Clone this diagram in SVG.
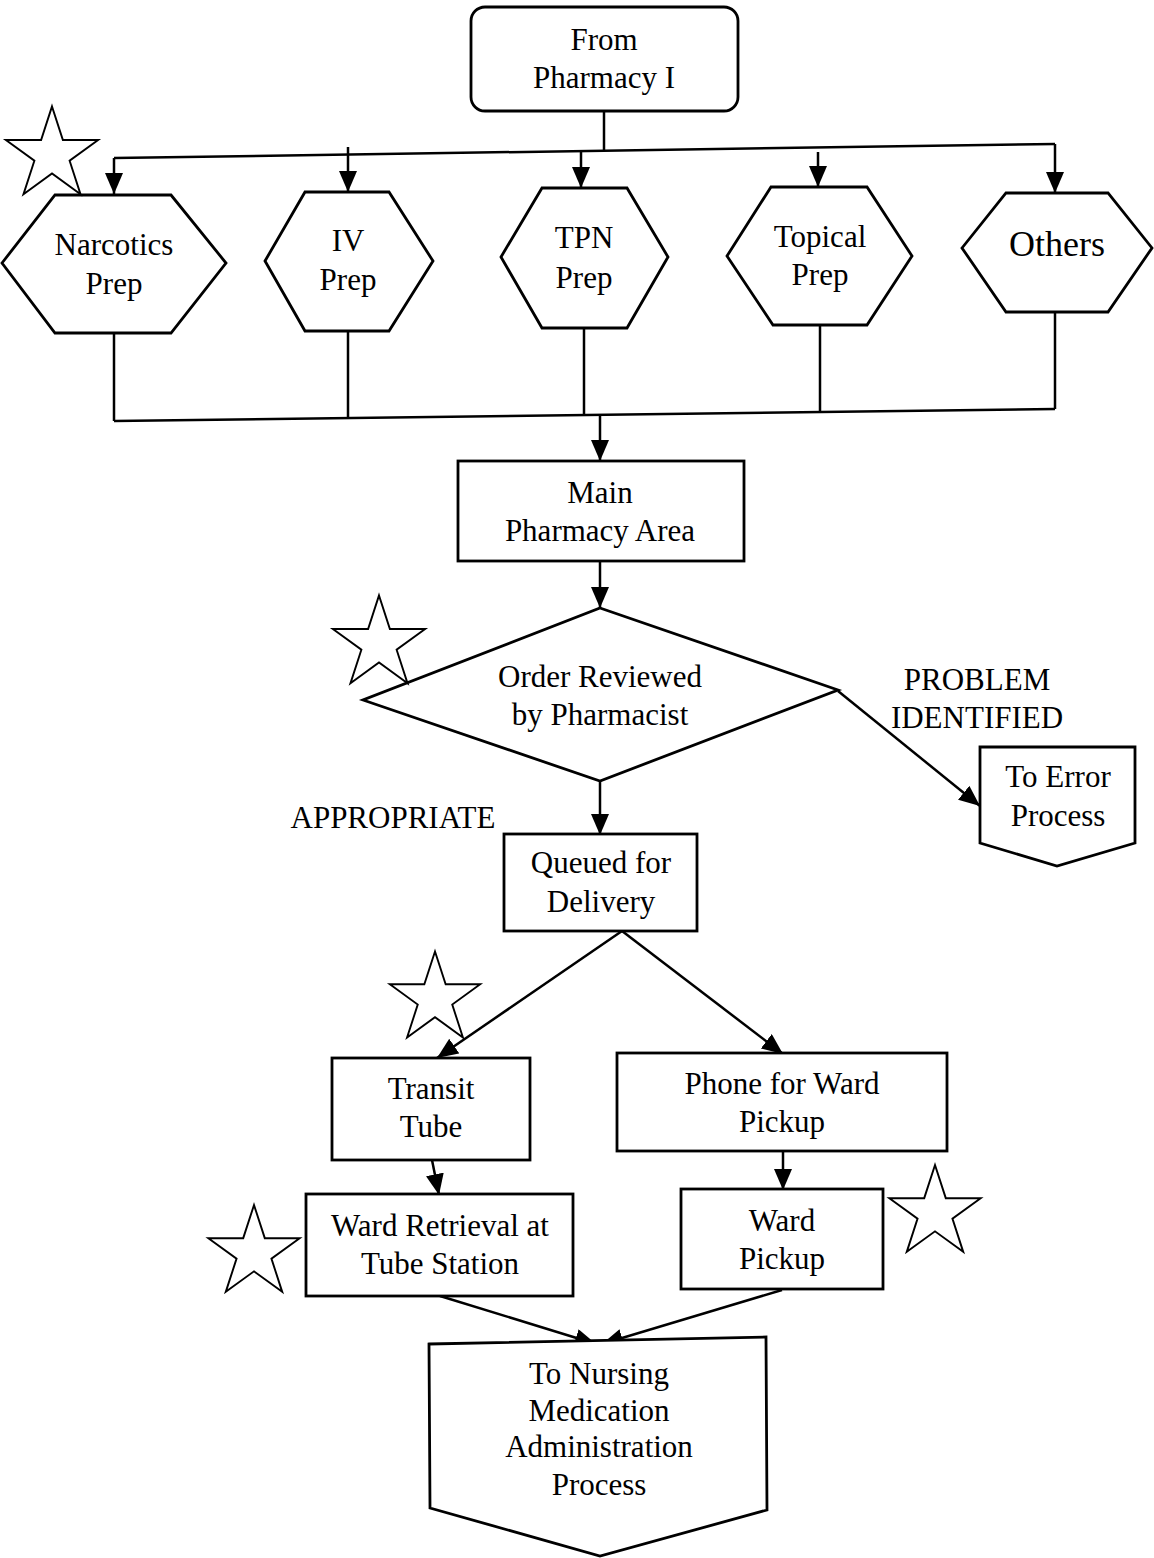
<svg xmlns="http://www.w3.org/2000/svg" xmlns:xlink="http://www.w3.org/1999/xlink" width="1154" height="1558" viewBox="0 0 1154 1558">
<style>
.shape{fill:#fff;stroke:#000;stroke-width:2.8;stroke-linejoin:miter}
.line{fill:none;stroke:#000;stroke-width:2.5}
.star{fill:#fff;stroke:#000;stroke-width:2}
text{font-family:"Liberation Serif","Times New Roman",serif;font-size:31px;fill:#000;text-anchor:middle}
</style>
<defs>
<marker id="ah" markerUnits="userSpaceOnUse" markerWidth="24" markerHeight="22" refX="21" refY="9" orient="auto">
<path d="M0,0 L21,9 L0,18 Z" fill="#000"/>
</marker>
<path id="starShape" d="M0,-50 L11.23,-15.45 L47.55,-15.45 L18.16,5.9 L29.39,40.45 L0,19.1 L-29.39,40.45 L-18.16,5.9 L-47.55,-15.45 L-11.23,-15.45 Z"/>
</defs>
<rect width="1154" height="1558" fill="#fff"/>

<g id="connectors">
<line class="line" x1="604" y1="111" x2="604" y2="151"/>
<line class="line" x1="114" y1="158" x2="1055" y2="144"/>
<line class="line" x1="114" y1="158" x2="114" y2="194" marker-end="url(#ah)"/>
<line class="line" x1="348" y1="147" x2="348" y2="192" marker-end="url(#ah)"/>
<line class="line" x1="581" y1="150" x2="581" y2="188" marker-end="url(#ah)"/>
<line class="line" x1="818" y1="152" x2="818" y2="187" marker-end="url(#ah)"/>
<line class="line" x1="1055" y1="144" x2="1055" y2="193" marker-end="url(#ah)"/>
<line class="line" x1="114" y1="333" x2="114" y2="421"/>
<line class="line" x1="348" y1="331" x2="348" y2="418"/>
<line class="line" x1="584" y1="328" x2="584" y2="414"/>
<line class="line" x1="820" y1="325" x2="820" y2="411"/>
<line class="line" x1="1055" y1="312" x2="1055" y2="409"/>
<line class="line" x1="114" y1="421" x2="1055" y2="409"/>
<line class="line" x1="600" y1="414" x2="600" y2="461" marker-end="url(#ah)"/>
<line class="line" x1="600" y1="561" x2="600" y2="608" marker-end="url(#ah)"/>
<line class="line" x1="838" y1="691" x2="980" y2="806" marker-end="url(#ah)"/>
<line class="line" x1="600" y1="781" x2="600" y2="835" marker-end="url(#ah)"/>
<line class="line" x1="622" y1="931" x2="437" y2="1058" marker-end="url(#ah)"/>
<line class="line" x1="622" y1="931" x2="783" y2="1054" marker-end="url(#ah)"/>
<line class="line" x1="432" y1="1160" x2="439" y2="1195" marker-end="url(#ah)"/>
<line class="line" x1="783" y1="1151" x2="783" y2="1190" marker-end="url(#ah)"/>
<line class="line" x1="440" y1="1296" x2="596" y2="1344" marker-end="url(#ah)"/>
<line class="line" x1="782" y1="1290" x2="602" y2="1344" marker-end="url(#ah)"/>
</g>

<g id="from-pharmacy">
<rect class="shape" x="471" y="7" width="267" height="104" rx="14"/>
<text x="604" y="50">From</text>
<text x="604" y="88">Pharmacy I</text>
</g>

<g id="narcotics">
<polygon class="shape" points="2,263 55,195 171,195 226,263 171,333 55,333"/>
<text x="114" y="255">Narcotics</text>
<text x="114" y="294">Prep</text>
</g>
<g id="iv">
<polygon class="shape" points="265,261 305,192 389,192 433,261 389,331 305,331"/>
<text x="348" y="251">IV</text>
<text x="348" y="290">Prep</text>
</g>
<g id="tpn">
<polygon class="shape" points="501,257 542,188 627,188 668,257 627,328 542,328"/>
<text x="584" y="248">TPN</text>
<text x="584" y="288">Prep</text>
</g>
<g id="topical">
<polygon class="shape" points="727,256 771,187 867,187 912,256 867,325 773,325"/>
<text x="820" y="247">Topical</text>
<text x="820" y="285">Prep</text>
</g>
<g id="others">
<polygon class="shape" points="962,248 1006,193 1108,193 1152,248 1108,312 1006,312"/>
<text x="1057" y="256" style="font-size:36px">Others</text>
</g>

<g id="main-pharmacy">
<rect class="shape" x="458" y="461" width="286" height="100"/>
<text x="600" y="503">Main</text>
<text x="600" y="541">Pharmacy Area</text>
</g>

<g id="order-reviewed">
<polygon class="shape" points="600,608 838,690 600,781 363,700"/>
<text x="600" y="687">Order Reviewed</text>
<text x="600" y="725">by Pharmacist</text>
</g>

<g id="problem-label">
<text x="977" y="690">PROBLEM</text>
<text x="977" y="728">IDENTIFIED</text>
</g>

<g id="error-process">
<polygon class="shape" points="980,747 1135,747 1135,843 1057,866 980,843"/>
<text x="1058" y="787">To Error</text>
<text x="1058" y="826">Process</text>
</g>

<g id="appropriate-label">
<text x="393" y="828">APPROPRIATE</text>
</g>

<g id="queued">
<rect class="shape" x="504" y="834" width="193" height="97"/>
<text x="601" y="873">Queued for</text>
<text x="601" y="912">Delivery</text>
</g>

<g id="transit-tube">
<rect class="shape" x="332" y="1058" width="198" height="102"/>
<text x="431" y="1099">Transit</text>
<text x="431" y="1137">Tube</text>
</g>

<g id="phone-ward">
<rect class="shape" x="617" y="1053" width="330" height="98"/>
<text x="782" y="1094">Phone for Ward</text>
<text x="782" y="1132">Pickup</text>
</g>

<g id="ward-retrieval">
<rect class="shape" x="306" y="1194" width="267" height="102"/>
<text x="440" y="1236">Ward Retrieval at</text>
<text x="440" y="1274">Tube Station</text>
</g>

<g id="ward-pickup">
<rect class="shape" x="681" y="1189" width="202" height="100"/>
<text x="782" y="1231">Ward</text>
<text x="782" y="1269">Pickup</text>
</g>

<g id="nursing">
<polygon class="shape" points="429,1344 766,1337 767,1510 600,1556 430,1508"/>
<text x="599" y="1384">To Nursing</text>
<text x="599" y="1421">Medication</text>
<text x="599" y="1457">Administration</text>
<text x="599" y="1495">Process</text>
</g>

<g id="stars">
<use xlink:href="#starShape" href="#starShape" class="star" transform="translate(52,155) scale(0.97)"/>
<use xlink:href="#starShape" href="#starShape" class="star" transform="translate(379,644) scale(0.97)"/>
<use xlink:href="#starShape" href="#starShape" class="star" transform="translate(435,999) scale(0.95)"/>
<use xlink:href="#starShape" href="#starShape" class="star" transform="translate(254,1253) scale(0.96)"/>
<use xlink:href="#starShape" href="#starShape" class="star" transform="translate(935,1213) scale(0.96)"/>
</g>
</svg>
